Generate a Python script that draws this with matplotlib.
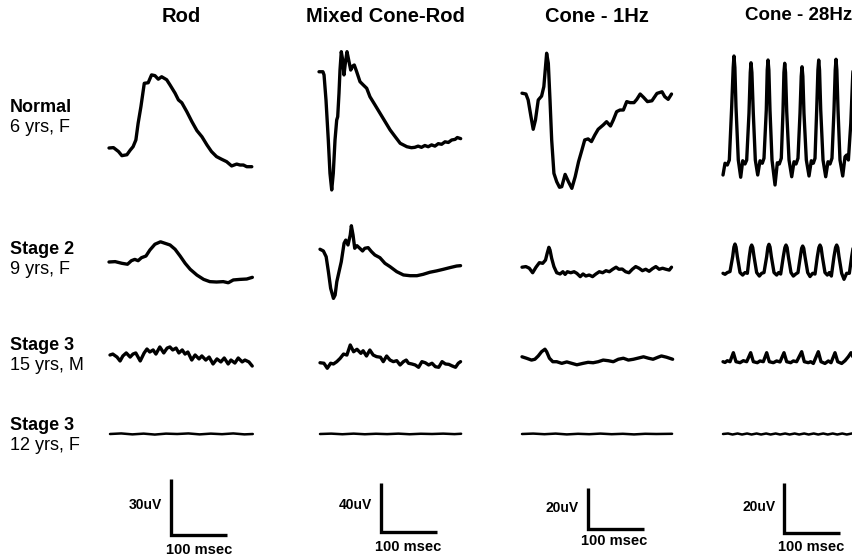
import numpy as np
import matplotlib
matplotlib.use("Agg")
import matplotlib.pyplot as plt

plt.rcParams['font.family'] = ['Liberation Sans', 'DejaVu Sans']

W, H = 853, 557

# ---------------- data: time (ms), amplitude (uV) ----------------
columns = ["Rod", "Mixed Cone-Rod", "Cone - 1Hz", "Cone - 28Hz"]
row_titles = ["Normal", "Stage 2", "Stage 3", "Stage 3"]
row_subtitles = ["6 yrs, F", "9 yrs, F", "15 yrs, M", "12 yrs, F"]
scale_uv = [30, 40, 20, 20]
scale_ms = [100, 100, 100, 100]

rod_normal = np.array([[0,0],[8,0.2],[17,-1.9],[23,-4.1],[32,-3.6],[38,-1.1],[43,0.7],[48,4.3],[52,13.2],
    [57,22.1],[63,34.6],[70,34.9],[76,39.1],[82,38.7],[88,36.8],[94,38.1],[103,36.5],[109,33.7],[118,29.3],
    [124,25.7],[130,24.2],[139,19.4],[148,14.1],[157,9.3],[166,6.0],[175,1.6],[183,-1.9],[192,-4.6],
    [201,-6.0],[210,-7.3],[219,-9.6],[228,-8.6],[234,-9.1],[240,-9.1],[246,-10.0],[255,-10.0]])
rod_stage2 = np.array([[0,0],[11,0.2],[23,-0.7],[33,-1.2],[40,0.7],[46,1.4],[52,0.7],[58,2.3],[66,3.2],
    [73,6.4],[82,9.5],[92,10.8],[100,10.0],[109,9.1],[118,6.8],[127,3.2],[136,-0.7],[145,-3.9],[157,-7.0],
    [169,-9.3],[180,-10.5],[192,-10.7],[204,-10.5],[213,-11.1],[222,-9.6],[234,-9.3],[246,-9.1],[256,-8.2]])
rod_stage3a = np.array([[0,0],[5,0.5],[12.5,-1.1],[18,-3.2],[23,-0.5],[29,1.1],[36,-1.1],[41,0.5],[46,1.1],
    [54,-3.2],[61,1.1],[66,3.2],[71,1.6],[77,2.7],[82,0.5],[89,4.3],[96,1.1],[102,3.7],[107,4.3],[112,2.7],
    [118,3.7],[123,1.1],[129,2.7],[134,0.5],[139,1.6],[146,-2.7],[152,0],[159,-2.1],[164,-0.5],[171,-2.7],
    [177,-1.1],[184,-4.8],[191,-2.1],[198,-3.7],[204,-1.6],[211,-4.8],[216,-2.7],[223,-4.3],[229,-1.6],
    [236,-3.7],[241,-2.7],[248,-3.7],[254,-5.9]])
rod_stage3b = np.array([[0,0],[20,0.3],[40,-0.2],[60,0.2],[80,-0.3],[100,0.2],[120,0],[140,0.3],[160,-0.2],
    [180,0.2],[200,-0.1],[220,0.3],[240,-0.2],[255,0]])

mixed_normal = np.array([[0,0.2],[7,0.2],[9,-2.4],[12.5,-22.9],[16.6,-55.5],[19.6,-82.7],[22.7,-96.3],
    [25.5,-82.7],[28.6,-55.5],[31.6,-39.2],[33.4,-36.5],[35.7,-17.4],[37.5,1.6],[39.8,16.6],[42.3,9.8],
    [44.6,-2.4],[47,7.1],[50,16.6],[53,9.8],[56.6,1.6],[60.2,4.9],[63,5.7],[67.3,0.2],[73.2,-7.9],
    [79.1,-10.6],[85.2,-13.3],[91,-20.2],[100,-26.9],[109,-33.7],[118,-40.5],[127,-47.3],[136,-52.8],
    [145,-58.2],[157,-61],[165,-61.8],[171,-61.5],[177,-60.5],[183,-61.5],[189,-60],[195,-61],[201,-59.5],
    [207,-60.5],[213,-58.5],[219,-59],[225,-57],[231,-57.5],[237,-55.5],[243,-55],[247,-53.5],[253,-54.4]])
mixed_stage2 = np.array([[0,-0.2],[6,-1.6],[11,-6.3],[15,-18.5],[19,-32.1],[24,-40.3],[27,-37.6],[30,-26.7],
    [34,-18.5],[38,-10.4],[43,4.7],[46,7.3],[50,3.3],[54,11.4],[56,19.0],[59,11.4],[62,0.6],[66,2.7],
    [71,0.6],[76,-1.6],[80,0.6],[86,1.1],[92,-2.2],[98,-4.9],[107,-7.1],[116,-11.7],[125,-14.4],[137,-18.5],
    [149,-21.2],[161,-21.8],[173,-21.8],[184,-20.7],[196,-19],[208,-17.9],[220,-16.6],[232,-15.2],
    [244,-13.9],[251,-13.6]])
mixed_stage3a = np.array([[0,0.2],[7,-0.2],[13,-4.3],[19,-0.2],[24,-0.8],[30,1.1],[36,3.8],[42,7.3],[48,6.5],
    [54,14.7],[60,9.2],[66,11.2],[73,7.9],[77,10.0],[83,5.7],[89,10.6],[95,6.5],[101,5.2],[108,4.7],
    [113,1.1],[119,5.7],[125,2.4],[131,1.1],[137,1.9],[143,-1.6],[149,1.1],[154,2.4],[158,-0.2],[164,-0.8],
    [170,-1.6],[176,-3.5],[182,1.1],[188,0.2],[194,-1.6],[200,-0.2],[206,-3.0],[212,-3.5],[218,1.1],
    [224,-0.8],[230,-1.1],[236,-2.4],[242,-3.5],[247,-0.2],[251,1.1]])
mixed_stage3b = np.array([[0,0],[20,0.3],[40,-0.2],[60,0.3],[80,-0.2],[100,0.2],[120,-0.1],[140,0.3],
    [160,-0.2],[180,0.2],[200,0],[220,0.3],[240,-0.1],[252,0.2]])

cone1_normal = np.array([[0,-0.1],[7,-0.5],[11,-3.4],[16,-11.5],[20,-17.7],[24,-13.2],[29,-3.4],[35,-1.5],
    [39,3.1],[44,19.4],[47,14.5],[50,-3.4],[53,-22.9],[57,-39.2],[62,-43.3],[67,-46.0],[71,-45.7],
    [77,-39.7],[83,-43.3],[89,-46.5],[95,-40.8],[101,-33.5],[107,-27.8],[112,-22.9],[118,-22.4],
    [124,-23.7],[130,-20.5],[136,-17.7],[145,-15.6],[151,-14.0],[158,-16.1],[163,-13.2],[169,-9.1],
    [175,-8.3],[181,-8.3],[187,-4.2],[193,-4.7],[200,-4.7],[205,-3.1],[211,-0.5],[217,-2.1],[224,-4.2],
    [232,-3.8],[241,-0.2],[250,0.6],[255,-1.8],[261,-3.1],[267,-0.5]])
cone1_stage2 = np.array([[0,-0.1],[7,0.2],[13,-0.6],[19,-2.8],[25,-0.1],[31,2.1],[37,1.8],[42,3.4],[45,6.7],
    [48,9.6],[50,8.3],[53,4.2],[57,0.2],[62,-2.8],[68,-3.4],[73,-2.3],[77,-3.6],[81,-2.3],[87,-2.8],
    [93,-2.3],[98,-3.1],[104,-4.7],[109,-3.4],[114,-4.4],[120,-3.9],[126,-4.7],[132,-3.4],[138,-2.3],
    [144,-2.8],[150,-1.8],[156,-2.3],[162,-1.1],[168,-0.1],[173,-1.1],[179,-1.0],[185,-2.3],[191,-2.8],
    [197,-1.1],[203,0.2],[209,-0.6],[215,-1.8],[221,-1.1],[227,-2.1],[233,-0.8],[239,0.2],[245,-1.1],
    [251,-0.6],[257,-1.1],[263,-1.5],[267,-0.1]])
cone1_stage3a = np.array([[0,0.1],[8,-0.6],[17,-1.5],[23,-1.1],[29,0.5],[35,2.6],[41,3.8],[44,2.6],[49,-0.6],
    [55,-2.3],[62,-2.3],[71,-3.1],[80,-2.4],[89,-3.1],[98,-3.8],[109,-3.1],[118,-2.6],[127,-2.8],
    [136,-2.3],[145,-1.5],[154,-1.8],[163,-2.3],[172,-1.1],[181,-0.6],[190,-1.5],[199,-1.1],[208,-0.5],
    [217,0.1],[226,-0.6],[234,-1.1],[243,-0.1],[249,0.5],[258,-0.1],[269,-1.1]])
cone1_stage3b = np.array([[0,0],[20,0.2],[40,-0.1],[60,0.2],[80,-0.2],[100,0.1],[120,-0.1],[140,0.2],
    [160,-0.1],[180,0.1],[200,-0.2],[220,0.1],[240,0],[268,0.1]])

cone28_normal = np.array([[0,0],[3.6,4.7],[7.7,4.0],[11.3,6.0],[15.5,27.3],[18.2,43],[19.6,47.6],[21.2,43],
    [23.2,27.3],[27.3,6.0],[31.6,-0.9],[35.2,5.7],[39.3,4.4],[42.3,6.0],[46.4,24.7],[48.7,41],[50.0,44.9],
    [51.6,41],[54.1,24.7],[57.7,6.0],[62.0,0],[66.1,5.7],[70.2,4.7],[73.2,6.7],[77.3,26],[79.0,42],[80.4,46],
    [81.9,42],[83.9,26],[87.5,6],[92.9,-4],[97.0,4.9],[100.5,4.4],[104.1,6.7],[107.1,25.3],[108.8,41],
    [110.2,44.7],[111.7,41],[113.8,25.3],[117.9,6],[122.7,-0.7],[126.8,5.3],[130.4,4.4],[133.9,6.7],
    [137.5,24.7],[139.7,39.5],[141.1,43.3],[142.6,39.5],[144.6,24.7],[148.8,6],[153.6,-0.4],[157.7,5.7],
    [161.3,4.7],[164.3,6.7],[167.3,26],[169.5,42],[170.9,46],[172.4,42],[174.5,26],[178.6,6],[183.4,-0.7],
    [187.5,5.3],[191.1,4.4],[194.6,6.7],[198.2,26],[200.4,42],[201.8,46.3],[203.3,42],[205.4,26],[208.9,6],
    [213.8,-0.4],[217.9,7.3],[220.9,8],[223.9,6],[228.2,20.7],[231.8,40.7],[234.5,47]])
cone28_stage2 = np.array([[0,0],[3.6,-0.4],[7.7,0.3],[12.5,0.7],[17.3,6.7],[19.5,10.5],[21.4,11.7],
    [23.3,10.5],[25.6,6.7],[30.4,0.3],[35.1,-0.7],[39.3,0.3],[43.5,0],[47.0,6.7],[49.3,10.3],[51.2,11.3],
    [53.1,10.3],[55.4,6.7],[60.1,0.3],[64.9,-1.1],[69.0,0],[73.2,0.3],[78.0,6.7],[80.2,10.5],[82.1,11.6],
    [84.0,10.5],[86.3,6.7],[91.1,0.3],[95.8,-0.7],[99.4,0.3],[103.0,-0.3],[107.7,6.7],[110.5,10.3],
    [112.5,11.3],[114.5,10.3],[116.7,6.7],[121.4,0.3],[125.6,-1.1],[129.8,-0.3],[133.9,0.3],[138.1,6.7],
    [140.4,10],[142.3,10.9],[144.2,10],[146.4,6.7],[151.2,0.3],[155.4,-1.3],[160.1,0],[164.3,-0.3],
    [168.5,6.7],[171.2,10.3],[173.2,11.3],[175.2,10.3],[177.4,6.7],[182.1,0.3],[186.3,-0.7],[189.9,0.3],
    [193.5,-1.1],[198.2,6.7],[201,10.3],[203.0,11.3],[205,10.3],[207.1,6.7],[211.9,0],[216.1,-2.4],
    [220.8,0],[225.6,0],[229.8,6.7],[232.7,10.7],[236,11.5]])
cone28_stage3a = np.array([[0,0],[3.6,-0.3],[7.7,0.4],[12.5,0],[18.5,3.6],[23.2,0],[30.4,-0.4],[36.3,0.4],
    [42.3,0],[49.4,3.6],[54.2,0],[61.3,-0.4],[66.1,0.3],[72.0,0],[78.0,3.6],[82.7,0],[89.9,-0.4],
    [95.8,0.3],[101.8,-0.1],[108.9,3.6],[113.7,0],[120.8,-0.4],[125.6,0.3],[131.5,0],[140.5,4.0],
    [145.2,0],[152.4,-0.4],[156.5,0],[161.3,-0.7],[170.2,4.0],[175.0,0],[182.1,-0.7],[188.1,0.3],
    [192.9,-0.4],[200.0,3.6],[204.8,0],[211.9,-0.7],[217.9,0.4],[223.8,2.0],[228.6,3.6],[233,1.5]])
cone28_stage3b = np.array([[0,0],[9,0.2],[17,-0.2],[26,0.2],[34,-0.2],[43,0.2],[51,-0.2],[60,0.2],[68,-0.2],
    [77,0.2],[85,-0.2],[94,0.2],[102,-0.2],[111,0.2],[119,-0.2],[128,0.2],[136,-0.2],[145,0.2],[153,-0.2],
    [162,0.2],[170,-0.2],[179,0.2],[187,-0.2],[196,0.2],[204,-0.2],[213,0.2],[221,-0.2],[230,0.2],[238,0]])

traces = [
    [rod_normal, mixed_normal, cone1_normal, cone28_normal],
    [rod_stage2, mixed_stage2, cone1_stage2, cone28_stage2],
    [rod_stage3a, mixed_stage3a, cone1_stage3a, cone28_stage3a],
    [rod_stage3b, mixed_stage3b, cone1_stage3b, cone28_stage3b],
]

# ---------------- layout (pixels) ----------------
PPM = 0.56                         # px per ms
col_ppu = [1.87, 1.225, 2.05, 2.5]  # px per uV
col_x0 = [[109, 109, 110, 110], [319, 320, 320, 320], [522, 522, 522, 522], [723, 723, 723, 723]]
col_yb = [[148, 262, 355, 434], [72, 249, 363, 434], [93, 267, 357, 434], [175, 273.3, 361.7, 434]]
bar_origin = [(171, 535), (381, 532), (588, 529), (784, 533)]
uv_label_pos = [(145, 505), (355, 505), (562, 508), (759, 507)]
ms_label_pos = [(199, 550), (408, 547), (614, 541), (811, 547)]
title_pos = [(181, 16, 'center', 14.5), (385, 16, 'center', 14.5), (597, 16, 'center', 14.5),
             (852, 16, 'right', 13.5)]
row_y = [(108, 128), (250, 270), (345, 365), (425, 445)]

fig = plt.figure(figsize=(W / 100, H / 100), dpi=100)
fig.patch.set_facecolor('white')


def panel_axes(x0, yb, ppu):
    tmin, tmax, vmin, vmax = -50.0, 350.0, -150.0, 150.0
    left = (x0 + tmin * PPM) / W
    width = (tmax - tmin) * PPM / W
    bottom = 1 - (yb - vmin * ppu) / H
    height = (vmax - vmin) * ppu / H
    ax = fig.add_axes([left, bottom, width, height])
    ax.set_xlim(tmin, tmax)
    ax.set_ylim(vmin, vmax)
    ax.axis('off')
    ax.patch.set_alpha(0)
    return ax


for r in range(4):
    for c in range(4):
        ax = panel_axes(col_x0[c][r], col_yb[c][r], col_ppu[c])
        d = traces[r][c]
        lw = 2.4 if r < 3 else 1.8
        ax.plot(d[:, 0], d[:, 1], color='black', lw=lw, clip_on=False,
                solid_joinstyle='round', solid_capstyle='round')

# scale bars
for c in range(4):
    bx, by = bar_origin[c]
    ax = panel_axes(bx, by, col_ppu[c])
    ax.plot([0, 0, scale_ms[c]], [scale_uv[c], 0, 0], color='black', lw=2.4,
            clip_on=False, solid_joinstyle='miter', solid_capstyle='butt')
    ux, uy = uv_label_pos[c]
    fig.text(ux / W, 1 - uy / H, f"{scale_uv[c]}uV", ha='center', va='center',
             fontsize=10, fontweight='bold')
    mx, my = ms_label_pos[c]
    fig.text(mx / W, 1 - my / H, f"{scale_ms[c]} msec", ha='center', va='center',
             fontsize=10.5, fontweight='bold')

# column titles
for c in range(4):
    tx, ty, ha, fs = title_pos[c]
    fig.text(tx / W, 1 - ty / H, columns[c], ha=ha, va='center', fontsize=fs, fontweight='bold')

# row labels
for r in range(4):
    y1, y2 = row_y[r]
    fig.text(10 / W, 1 - y1 / H, row_titles[r], ha='left', va='center', fontsize=13, fontweight='bold')
    fig.text(10 / W, 1 - y2 / H, row_subtitles[r], ha='left', va='center', fontsize=13)

fig.savefig('out.png', dpi=100, facecolor='white')
